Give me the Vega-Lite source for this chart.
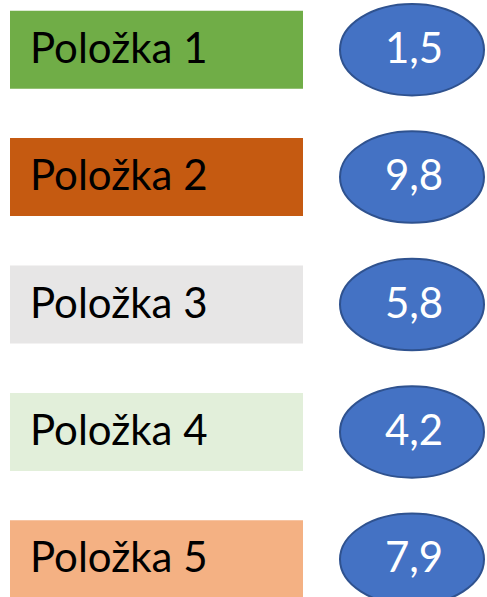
{
  "$schema": "https://vega.github.io/schema/vega-lite/v6.json",
  "width": 487,
  "height": 609,
  "padding": 0,
  "autosize": {"type": "none"},
  "background": "white",
  "config": {"view": {"stroke": null}},
  "data": {
    "values": [
      {"item": "Položka 1", "value": "1,5"},
      {"item": "Položka 2", "value": "9,8"},
      {"item": "Položka 3", "value": "5,8"},
      {"item": "Položka 4", "value": "4,2"},
      {"item": "Položka 5", "value": "7,9"}
    ]
  },
  "encoding": {
    "y": {"field": "item", "type": "nominal", "axis": null,
      "scale": {"type": "point", "padding": 0.39}}
  },
  "layer": [
    {
      "mark": {"type": "bar", "height": 78},
      "encoding": {
        "x": {"datum": 10, "type": "quantitative", "axis": null, "scale": {"domain": [0, 487], "nice": false, "zero": false}},
        "x2": {"datum": 303},
        "color": {"field": "item", "type": "nominal", "legend": null,
          "scale": {"domain": ["Položka 1", "Položka 2", "Položka 3", "Položka 4", "Položka 5"],
            "range": ["#70AD47", "#C55A11", "#E7E6E6", "#E2EFDA", "#F4B183"]}}
      }
    },
    {
      "mark": {"type": "text", "align": "left", "baseline": "middle", "font": "Lato", "fontSize": 42, "color": "black"},
      "encoding": {
        "x": {"datum": 30, "type": "quantitative"},
        "text": {"field": "item"}
      }
    },
    {
      "mark": {"type": "point", "filled": true, "shape": "M-1,0A1,0.635 0 1,0 1,0A1,0.635 0 1,0 -1,0Z", "size": 20736, "fill": "#4472C4", "stroke": "#2F528F", "strokeWidth": 2, "opacity": 1},
      "encoding": {
        "x": {"datum": 412, "type": "quantitative"}
      }
    },
    {
      "mark": {"type": "text", "align": "center", "baseline": "middle", "font": "Lato", "fontSize": 42, "color": "white"},
      "encoding": {
        "x": {"datum": 414, "type": "quantitative"},
        "text": {"field": "value"}
      }
    }
  ]
}
